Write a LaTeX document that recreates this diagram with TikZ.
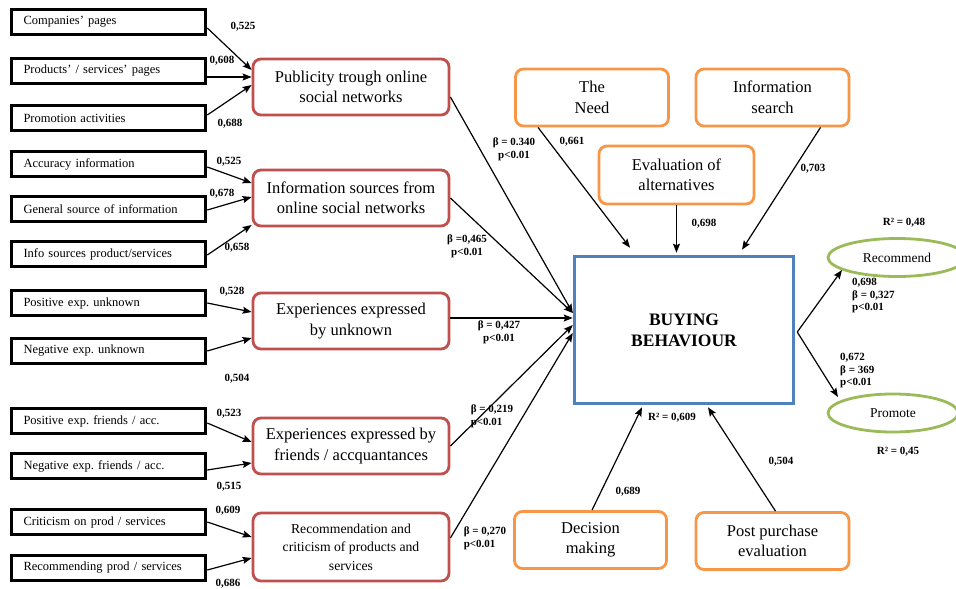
\documentclass[tikz,border=0pt]{standalone}
\usepackage{fontspec}
\setmainfont{Liberation Serif}
\usetikzlibrary{arrows.meta,shapes.geometric}
\definecolor{redb}{HTML}{C0504D}
\definecolor{orangeb}{HTML}{F79646}
\definecolor{blueb}{HTML}{4F81BD}
\definecolor{greenb}{HTML}{9BBB59}
\frenchspacing
\begin{document}
\begin{tikzpicture}[x=1pt,y=-1pt,
 arr/.style={-{Stealth[length=9pt,width=7pt,inset=1.5pt]}, line width=1.2pt},
 blk/.style={draw=black, line width=3.6pt, minimum width=194pt, minimum height=25pt, text width=170pt, align=left, inner xsep=12pt, inner ysep=0pt, font=\fontsize{12.5}{14}\selectfont},
 lat/.style={draw=redb, line width=2.8pt, rounded corners=8pt, minimum width=196pt, minimum height=56pt, align=center, font=\fontsize{16.5}{20.5}\selectfont},
 stg/.style={draw=orangeb, line width=2.8pt, rounded corners=8pt, minimum width=153pt, minimum height=57pt, align=center, font=\fontsize{16.5}{20.5}\selectfont},
 outc/.style={draw=greenb, line width=2.8pt, ellipse, minimum width=138pt, minimum height=38pt, inner sep=0pt},
 lbl/.style={font=\bfseries\fontsize{11}{13}\selectfont, inner sep=0pt},
]
\useasboundingbox (0,0) rectangle (956,589);

% indicator boxes
\node[blk] (c1) at (108.5,22) {Companies' pages};
\node[blk] (c2) at (108.5,71) {Products' / services' pages};
\node[blk] (c3) at (108.5,118) {Promotion activities};
\node[blk] (c4) at (108.5,164) {Accuracy information};
\node[blk] (c5) at (108.5,209) {General source of information};
\node[blk] (c6) at (108.5,254) {Info sources product/services};
\node[blk] (c7) at (108.5,303) {Positive exp. unknown};
\node[blk] (c8) at (108.5,351) {Negative exp. unknown};
\node[blk] (c9) at (108.5,421) {Positive exp. friends / acc.};
\node[blk] (c10) at (108.5,466) {Negative exp. friends / acc.};
\node[blk] (c11) at (108.5,522) {Criticism on prod / services};
\node[blk] (c12) at (108.5,568) {Recommending prod / services};

% latent boxes
\node[lat] (r1) at (351,87) {Publicity trough online\\social networks};
\node[lat] (r2) at (351,198) {Information sources from\\online social networks};
\node[lat] (r3) at (351,321) {Experiences expressed\\by unknown};
\node[lat] (r4) at (351,446) {Experiences expressed by\\friends / accquantances};
\node[lat, minimum height=68pt, font=\fontsize{13.7}{18.5}\selectfont] (r5) at (351,547) {Recommendation and\\criticism of products and\\services};

% central
\node[draw=blueb, line width=3.5pt, minimum width=219pt, minimum height=147pt, align=center, font=\bfseries\fontsize{17.5}{21}\selectfont] (b) at (684,330) {BUYING\\BEHAVIOUR};

% stages
\node[stg] (need) at (592,97.5) {The\\Need};
\node[stg] (is) at (772.5,97.5) {Information\\search};
\node[stg, minimum width=155pt, minimum height=58pt] (ev) at (676.5,175) {Evaluation of\\alternatives};
\node[stg, minimum width=152pt] (dm) at (590.5,540) {Decision\\making};
\node[stg] (pp) at (772.5,541) {Post purchase\\evaluation};

% outcomes
\node[outc, font=\fontsize{13.5}{15}\selectfont] (rec) at (897,257.5) {Recommend};
\node[outc, minimum width=130pt, font=\fontsize{13.5}{15}\selectfont] (pro) at (893,413) {Promote};

% indicator arrows
\draw[arr] ([yshift=-6pt]c1.east) -- ([yshift=17pt]r1.west);
\draw[arr] ([yshift=-6pt]c2.east) -- ([yshift=10pt]r1.west);
\draw[arr] ([yshift=3pt]c3.east) -- ([yshift=2pt]r1.west);
\draw[arr] ([yshift=-3pt]c4.east) -- ([yshift=15pt]r2.west);
\draw[arr] ([yshift=-1pt]c5.east) -- ([yshift=1pt]r2.west);
\draw[arr] ([yshift=-1pt]c6.east) -- ([yshift=-27pt]r2.west);
\draw[arr] (c7.east) -- ([yshift=9pt]r3.west);
\draw[arr] (c8.east) -- ([yshift=-17pt]r3.west);
\draw[arr] ([yshift=-2pt]c9.east) -- ([yshift=4pt]r4.west);
\draw[arr] ([yshift=-4pt]c10.east) -- ([yshift=-17pt]r4.west);
\draw[arr] (c11.east) -- ([yshift=10pt]r5.west);
\draw[arr] ([yshift=-2pt]c12.east) -- ([yshift=-11pt]r5.west);

% latent to central
\draw[arr] ([yshift=-10pt]r1.east) -- ([yshift=17pt]b.west);
\draw[arr] (r2.east) -- ([yshift=17pt]b.west);
\draw[arr] ([yshift=3pt]r3.east) -- ([yshift=12pt]b.west);
\draw[arr] (r4.east) -- ([yshift=5pt]b.west);
\draw[arr] ([yshift=9pt]r5.east) -- ([yshift=-3pt]b.west);

% stages to central
\draw[arr] ([xshift=-54pt]need.south) -- ([xshift=-54pt,yshift=7pt]b.north);
\draw[arr] (ev.south) -- ([xshift=-7.5pt,yshift=2pt]b.north);
\draw[arr] ([xshift=48pt]is.south) -- ([xshift=58pt,yshift=5pt]b.north);
\draw[arr] ([xshift=1.5pt]dm.north) -- ([xshift=-42pt,yshift=-2pt]b.south);
\draw[arr] ([xshift=3pt]pp.north) -- ([xshift=24pt,yshift=-2pt]b.south);

% central to outcomes
\draw[arr] ([xshift=2pt,yshift=-2pt]b.east) -- ([xshift=-55pt,yshift=-12.5pt]rec.center);
\draw[arr] ([xshift=2pt,yshift=-2pt]b.east) -- ([xshift=-55pt,yshift=16pt]pro.center);

% loading labels
\node[lbl] (l1) at (243,27) {0,525};
\node[lbl] (l2) at (222,61) {0,608};
\node[lbl] (l3) at (230,124) {0,688};
\node[lbl] (l4) at (229,162) {0,525};
\node[lbl] (l5) at (222,194) {0,678};
\node[lbl] (l6) at (237,248) {0,658};
\node[lbl] (l7) at (232,292) {0,528};
\node[lbl] (l8) at (237,379) {0,504};
\node[lbl] (l9) at (229,414) {0,523};
\node[lbl] (l10) at (229,487) {0,515};
\node[lbl] (l11) at (228,511) {0,609};
\node[lbl] (l12) at (228,584) {0,686};

% path labels
\node[lbl, align=center] (p1) at (514,149) {β = 0.340\\p<0.01};
\node[lbl, align=center] (p2) at (467,246) {β =0,465\\p<0.01};
\node[lbl, align=center] (p3) at (499,332) {β = 0,427\\p<0.01};
\node[lbl, align=left] (p4) at (492,416) {β = 0,219\\p<0.01};
\node[lbl, align=left] (p5) at (485,538) {β = 0,270\\p<0.01};

\node[lbl] (s1) at (572,142) {0,661};
\node[lbl] (s2) at (704,224) {0,698};
\node[lbl] (s3) at (813,169) {0,703};
\node[lbl] (s4) at (628,492) {0,689};
\node[lbl] (s5) at (781,462) {0,504};
\node[lbl] (rb) at (672,418) {R² = 0,609};
\node[lbl] (rr) at (904,223) {R² = 0,48};
\node[lbl] (rp) at (898,452) {R² = 0,45};
\node[lbl, align=left, anchor=west, font=\bfseries\fontsize{11}{12.5}\selectfont] (o1) at (852,296) {0,698\\β = 0,327\\p<0.01};
\node[lbl, align=left, anchor=west, font=\bfseries\fontsize{11}{12.5}\selectfont] (o2) at (840,371) {0,672\\β = 369\\p<0.01};
\end{tikzpicture}
\end{document}
